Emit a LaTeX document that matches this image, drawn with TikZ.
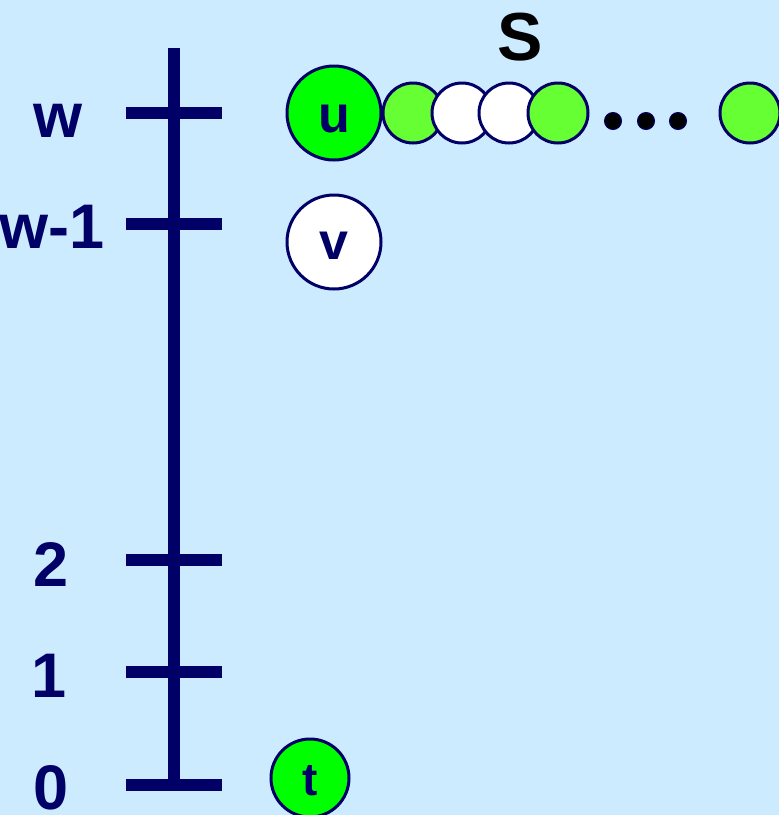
\documentclass[tikz,border=0pt]{standalone}
\usepackage{fontspec}
\setmainfont{Liberation Sans}
\definecolor{navy}{HTML}{000066}
\definecolor{bgblue}{HTML}{CCEBFF}
\definecolor{brightgreen}{HTML}{00FF00}
\definecolor{lightgreen}{HTML}{66FF33}
\begin{document}
\begin{tikzpicture}[x=1pt,y=-1pt,
  axis/.style={draw=navy,line width=12pt},
  lbl/.style={inner sep=0pt,anchor=base,text=navy,font=\fontsize{63}{63}\selectfont\bfseries},
  bignode/.style={circle,draw=navy,line width=3pt,minimum size=94pt,inner sep=0pt},
  intext/.style={inner sep=0pt,anchor=base,text=navy,font=\fontsize{52}{52}\selectfont\bfseries},
  smallg/.style={circle,draw=navy,line width=3pt,minimum size=60pt,inner sep=0pt,fill=lightgreen},
  smallw/.style={circle,draw=navy,line width=3pt,minimum size=60pt,inner sep=0pt,fill=white},
  dotn/.style={circle,fill=black,draw=navy,line width=1pt,minimum size=17pt,inner sep=0pt}]
\fill[bgblue] (0,0) rectangle (779,815);
\useasboundingbox (0,0) rectangle (779,815);
% axis
\coordinate (top) at (174,48);
\coordinate (bot) at (174,785);
\draw[axis] (top) -- (bot);
\foreach \y/\n in {113/tw,224/tw1,560/t2,672/t1,785/t0}{
  \coordinate (\n L) at (126,\y);
  \coordinate (\n R) at (222,\y);
  \draw[axis] (\n L) -- (\n R);
}
% labels
\node[lbl] (lw) at (58,137) {w};
\node[lbl] (lw1) at (52,248) {w-1};
\node[lbl] (l2) at (51,586) {2};
\node[lbl] (l1) at (49,697) {1};
\node[lbl] (l0) at (51,809) {0};
\node[lbl,text=black,font=\fontsize{68}{68}\selectfont\bfseries] (S) at (520,60) {S};
% nodes
\node[bignode,fill=brightgreen] (u) at (334,113) {};
\node[intext] (ut) at (334,132) {u};
\node[bignode,fill=white] (v) at (334,242) {};
\node[intext] (vt) at (334,259) {v};
\node[bignode,fill=brightgreen,minimum size=78pt] (t) at (310,778) {};
\node[intext,font=\fontsize{46}{46}\selectfont\bfseries] (tt) at (310,795) {t};
% chain
\node[smallg] (s1) at (413,113) {};
\node[smallw] (s2) at (462,113) {};
\node[smallw] (s3) at (509,113) {};
\node[smallg] (s4) at (558,113) {};
\node[dotn] (d1) at (613,121) {};
\node[dotn] (d2) at (646,121) {};
\node[dotn] (d3) at (678,121) {};
\node[smallg] (s5) at (750,113) {};
\end{tikzpicture}
\end{document}
